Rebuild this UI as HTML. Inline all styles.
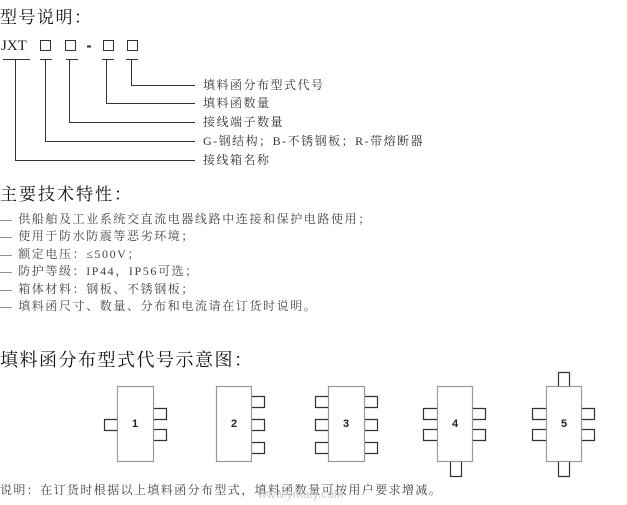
<!DOCTYPE html>
<html><head><meta charset="utf-8"><style>
body{margin:0;width:627px;height:505px;background:#fff;position:relative;overflow:hidden;font-family:"Liberation Serif","Noto Serif CJK SC","Noto Sans CJK SC",serif;color:#222}
.t{position:absolute;white-space:nowrap;line-height:1}
.h{font-size:17px;letter-spacing:1px;color:#111}
.s{font-size:12px;letter-spacing:1.5px;color:#333}
.b{font-size:12px;letter-spacing:1.6px;color:#444}
</style></head><body>
<div class="t h" style="left:0;top:9px;letter-spacing:1.5px">型号说明：</div>
<div class="t" style="left:1px;top:39px;font-size:15px;letter-spacing:0px">JXT</div>
<svg style="position:absolute;left:0;top:0" width="627" height="505">
<g fill="none" stroke="#333" stroke-width="1">
<rect x="40.5" y="40.5" width="10" height="10"/><rect x="65.5" y="40.5" width="10" height="10"/>
<rect x="103.5" y="40.5" width="10" height="10"/><rect x="127.5" y="40.5" width="10" height="10"/>
<line x1="87" y1="46.5" x2="91" y2="46.5" stroke-width="2"/>
<path d="M3 59.5H30M40 59.5H52M66 59.5H78M102 59.5H114M126 59.5H138"/>
<path d="M131.5 59V85.5H195M106.5 59V103.5H195M69.5 59V122.5H195M45.5 59V141.5H195M15.5 59V160.5H195"/>
</g>
<g fill="#fff" stroke="#999" stroke-width="1.2">
<rect x="117.5" y="386.5" width="36" height="75"/>
<rect x="216.5" y="386.5" width="35" height="75"/>
<rect x="328.5" y="386.5" width="36" height="75"/>
<rect x="437.5" y="386.5" width="35" height="75"/>
<rect x="546.5" y="386.5" width="35" height="75"/>
</g>
<g fill="none" stroke="#333" stroke-width="1.2">
<path d="M117 419.5H104.5V430.5H117"/>
<path d="M154 408.5H166.5V419.5H154M154 429.5H166.5V440.5H154"/>
<path d="M252 396.5H264.5V407.5H252M252 419.5H264.5V430.5H252M252 442.5H264.5V453.5H252"/>
<path d="M328 396.5H315.5V407.5H328M328 419.5H315.5V430.5H328M328 442.5H315.5V453.5H328"/>
<path d="M365 396.5H377.5V407.5H365M365 419.5H377.5V430.5H365M365 442.5H377.5V453.5H365"/>
<path d="M437 408.5H423.5V419.5H437M437 429.5H423.5V440.5H437"/>
<path d="M473 408.5H485.5V419.5H473M473 429.5H485.5V440.5H473"/>
<path d="M450.5 462V476.5H461.5V462"/>
<path d="M546 408.5H532.5V419.5H546M546 429.5H532.5V440.5H546"/>
<path d="M582 408.5H594.5V419.5H582M582 429.5H594.5V440.5H582"/>
<path d="M558.5 386V372.5H569.5V386"/>
<path d="M558.5 462V476.5H569.5V462"/>
</g>
<g font-family="Liberation Sans,sans-serif" font-size="11" font-weight="bold" fill="#222" text-anchor="middle">
<text x="135" y="427">1</text><text x="234" y="427">2</text><text x="346" y="427">3</text><text x="455" y="427">4</text><text x="564" y="427">5</text>
</g>
</svg>
<div class="t s" style="left:203px;top:79px">填料函分布型式代号</div>
<div class="t s" style="left:203px;top:97px">填料函数量</div>
<div class="t s" style="left:203px;top:116px">接线端子数量</div>
<div class="t s" style="left:203px;top:135px">G-钢结构；B-不锈钢板；R-带熔断器</div>
<div class="t s" style="left:203px;top:154px">接线箱名称</div>
<div class="t h" style="left:0;top:186px;letter-spacing:2px">主要技术特性：</div>
<div class="t b" style="left:0;top:213px">— 供船舶及工业系统交直流电器线路中连接和保护电路使用；</div>
<div class="t b" style="left:0;top:230px">— 使用于防水防震等恶劣环境；</div>
<div class="t b" style="left:0;top:248px">— 额定电压：≤500V；</div>
<div class="t b" style="left:0;top:265px">— 防护等级：IP44，IP56可选；</div>
<div class="t b" style="left:0;top:283px">— 箱体材料：钢板、不锈钢板；</div>
<div class="t b" style="left:0;top:300px">— 填料函尺寸、数量、分布和电流请在订货时说明。</div>
<div class="t h" style="left:0;top:351px;font-size:18px;letter-spacing:1.5px">填料函分布型式代号示意图：</div>
<div class="t b" style="left:0;top:484px;letter-spacing:1.4px">说明：在订货时根据以上填料函分布型式，填料函数量可按用户要求增减。</div>
<div class="t" style="left:258px;top:488px;font-family:'Liberation Sans',sans-serif;font-size:12px;color:#ccc">www.ymaty.com</div>
</body></html>
